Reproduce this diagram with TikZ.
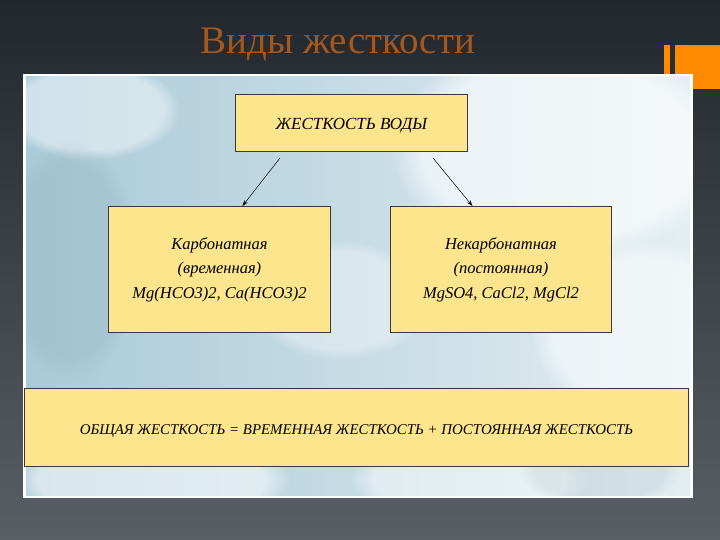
\documentclass[tikz,border=0pt]{standalone}
\usepackage{fontspec}
\setmainfont{Liberation Serif}[ItalicFont={Liberation Serif Italic}]
\usetikzlibrary{arrows.meta,fadings}
\definecolor{bgtop}{HTML}{22272D}
\definecolor{bgbot}{HTML}{5A5E65}
\definecolor{titlec}{HTML}{A5581E}
\definecolor{orangec}{HTML}{FF8A00}
\definecolor{boxfill}{HTML}{FCE58C}
\definecolor{boxline}{HTML}{3A3A3A}
\definecolor{snowblue}{HTML}{A9CAD8}
\definecolor{snowlight}{HTML}{E4EEF2}
\tikzset{
  card/.style={draw=boxline, line width=0.9pt, fill=boxfill, inner sep=0pt, anchor=north west},
  cardtext/.style={font=\itshape, align=center, text=black},
  link/.style={-{Stealth[length=6pt,width=4pt]}, line width=0.5pt, draw=black},
  blob/.style={fill=white, path fading=circle with fuzzy edge 20 percent}
}
\begin{document}
\begin{tikzpicture}[x=1pt,y=-1pt]
\useasboundingbox (0,0) rectangle (720,540);
% slide background
\shade[top color=bgtop, bottom color=bgbot] (0,0) rectangle (720,540);
% title
\node[text=titlec, font=\fontsize{39}{44}\selectfont] (title) at (338,45) {Виды жесткости};
% orange decoration
\fill[orangec] (664,45) rectangle (670,78);
\fill[orangec] (675,45) rectangle (720,89);
% picture frame
\fill[white] (23,74) rectangle (693,498);
\shade[left color=snowblue, right color=snowlight] (26,77) rectangle (690,495);
\begin{scope}
\clip (26,77) rectangle (690,495);
\fill[blob, opacity=0.6] (560,150) ellipse (170 and 110);
\fill[blob, opacity=0.5] (640,330) ellipse (110 and 90);
\fill[blob, opacity=0.45] (90,110) ellipse (90 and 50);
\fill[blob, opacity=0.35] (340,300) ellipse (90 and 60);
\fill[blob, opacity=0.55] (150,480) ellipse (140 and 50);
\fill[blob, opacity=0.45] (470,480) ellipse (120 and 40);
\fill[snowblue!80!black, opacity=0.2, path fading=circle with fuzzy edge 20 percent] (70,260) ellipse (70 and 120);
\fill[snowblue!80!black, opacity=0.15, path fading=circle with fuzzy edge 20 percent] (600,470) ellipse (80 and 40);
\end{scope}
% boxes
\node[card, minimum width=232pt, minimum height=57pt] (root) at (235,94) {};
\node[cardtext, font=\itshape\fontsize{17}{20}\selectfont] at ([yshift=-3pt]root.center) {ЖЕСТКОСТЬ ВОДЫ};
\node[card, minimum width=222pt, minimum height=126pt] (carb) at (108,206) {};
\node[cardtext, font=\itshape\fontsize{16.5}{24.5}\selectfont] at (carb.center) {Карбонатная\\(временная)\\Mg(HCO3)2, Ca(HCO3)2};
\node[card, minimum width=221pt, minimum height=126pt] (ncarb) at (390,206) {};
\node[cardtext, font=\itshape\fontsize{16.5}{24.5}\selectfont] at (ncarb.center) {Некарбонатная\\(постоянная)\\MgSO4, CaCl2, MgCl2};
\node[card, minimum width=664pt, minimum height=78pt] (total) at (24,388) {};
\node[cardtext, font=\itshape\fontsize{14.9}{17}\selectfont] at ([yshift=-4pt]total.center) {ОБЩАЯ ЖЕСТКОСТЬ = ВРЕМЕННАЯ ЖЕСТКОСТЬ + ПОСТОЯННАЯ ЖЕСТКОСТЬ};
% arrows
\coordinate (a1) at (280,158);
\coordinate (a2) at (433,158);
\draw[link] (a1) -- ([xshift=23pt]carb.north);
\draw[link] (a2) -- ([xshift=-28.5pt]ncarb.north);
\end{tikzpicture}
\end{document}
